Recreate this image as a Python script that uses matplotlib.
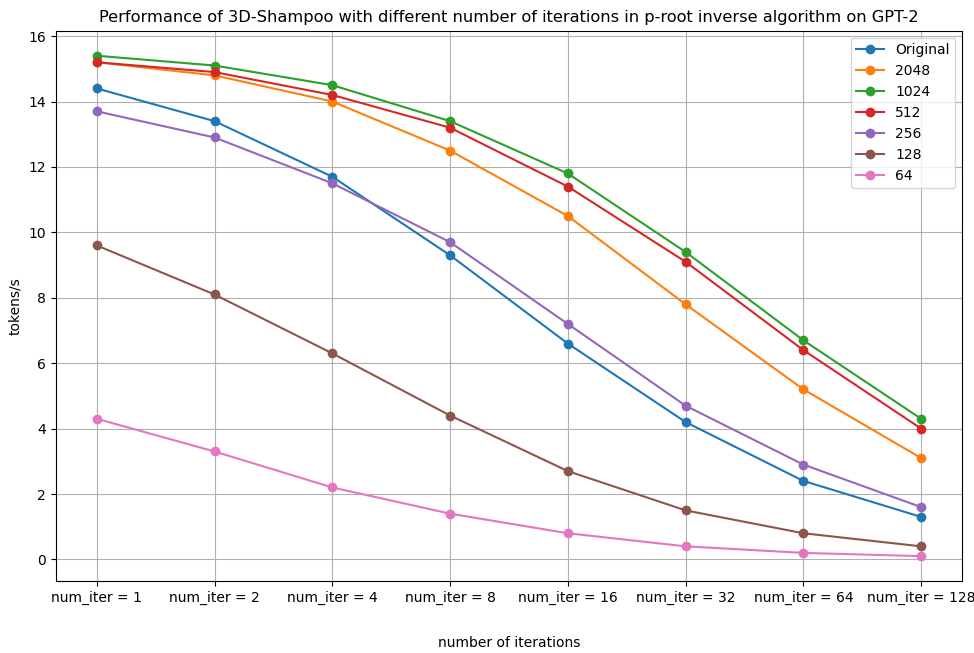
import matplotlib.pyplot as plt
import numpy as np

plt.rcParams['font.size'] = 10

iters = ["num_iter = 1", "num_iter = 2", "num_iter = 4", "num_iter = 8",
         "num_iter = 16", "num_iter = 32", "num_iter = 64", "num_iter = 128"]

original = [14.4, 13.4, 11.7, 9.3, 6.6, 4.2, 2.4, 1.3]
s2048 = [15.2, 14.8, 14.0, 12.5, 10.5, 7.8, 5.2, 3.1]
s1024 = [15.4, 15.1, 14.5, 13.4, 11.8, 9.4, 6.7, 4.3]
s512 = [15.2, 14.9, 14.2, 13.2, 11.4, 9.1, 6.4, 4.0]
s256 = [13.7, 12.9, 11.5, 9.7, 7.2, 4.7, 2.9, 1.6]
s128 = [9.6, 8.1, 6.3, 4.4, 2.7, 1.5, 0.8, 0.4]
s64 = [4.3, 3.3, 2.2, 1.4, 0.8, 0.4, 0.2, 0.1]

series = [("Original", original), ("2048", s2048), ("1024", s1024),
          ("512", s512), ("256", s256), ("128", s128), ("64", s64)]

fig, ax = plt.subplots(figsize=(9.74, 6.53), dpi=100)
x = np.arange(len(iters))
for name, vals in series:
    ax.plot(x, vals, marker='o', label=name)

ax.set_xticks(x)
ax.set_xticklabels(iters)
ax.set_xlabel("number of iterations", labelpad=22)
ax.set_ylabel("tokens/s")
ax.set_title("Performance of 3D-Shampoo with different number of iterations in p-root inverse algorithm on GPT-2",
             fontsize=11.7)
ax.grid(True)
ax.legend(loc='upper right')

plt.subplots_adjust(left=0.057, right=0.988, top=0.953, bottom=0.11)
plt.savefig("out.png")
